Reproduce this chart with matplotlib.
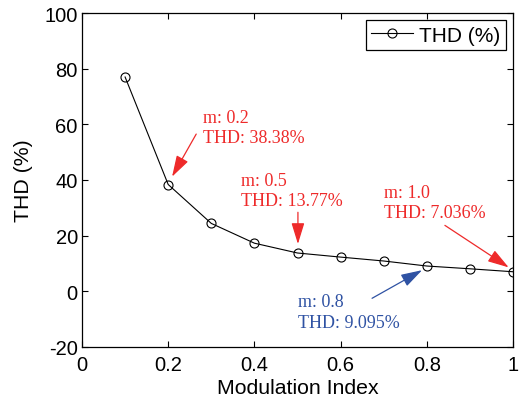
import matplotlib
matplotlib.use('Agg')
import matplotlib.pyplot as plt

m = [0.1, 0.2, 0.3, 0.4, 0.5, 0.6, 0.7, 0.8, 0.9, 1.0]
thd = [77.0, 38.38, 24.4, 17.3, 13.77, 12.3, 10.9, 9.095, 8.1, 7.036]

xticks = [0, 0.2, 0.4, 0.6, 0.8, 1]
xticklabels = ['0', '0.2', '0.4', '0.6', '0.8', '1']
yticks = [-20, 0, 20, 40, 60, 80, 100]

# (label, text pos, arrow tail, arrow tip, colour)
notes = [
    ('m: 0.2\nTHD: 38.38%', (0.281, 58.8), (0.265, 56.5), (0.209, 41.2), '#ee2a2a'),
    ('m: 0.5\nTHD: 13.77%', (0.369, 36.2), (0.501, 28.4), (0.501, 17.0), '#ee2a2a'),
    ('m: 1.0\nTHD: 7.036%', (0.700, 32.0), (0.842, 23.7), (0.990, 8.6), '#ee2a2a'),
    ('m: 0.8\nTHD: 9.095%', (0.500, -7.4), (0.673, -2.5), (0.789, 7.6), '#2f52a3'),
]

plt.rcParams['font.family'] = ['Liberation Sans', 'DejaVu Sans']
plt.rcParams['axes.unicode_minus'] = False

fig = plt.figure(figsize=(5.21, 4.02), dpi=100)
ax = fig.add_axes([82/521, 1 - 348/402, 431/521, 334/402])

ax.plot(m, thd, color='k', lw=0.8, marker='o', ms=6.5, mfc='none',
        mec='k', mew=0.8, label='THD (%)')

for label, tpos, tail, tip, col in notes:
    ax.text(tpos[0], tpos[1], label, color=col, va='center', ha='left',
            fontsize=13, family=['Liberation Serif', 'DejaVu Serif'],
            linespacing=1.25)
    ax.annotate('', xy=tip, xytext=tail,
                arrowprops=dict(arrowstyle='-|>,head_length=0.65,head_width=0.2',
                                color=col, lw=0.9,
                                mutation_scale=20, shrinkA=0, shrinkB=0))

ax.set_xlim(0, 1)
ax.set_ylim(-20, 100)
ax.set_xticks(xticks)
ax.set_xticklabels(xticklabels)
ax.set_yticks(yticks)
ax.tick_params(direction='in', top=True, right=True, labelsize=14.5,
               length=4, width=0.8)
ax.tick_params(axis='x', pad=6)
ax.tick_params(axis='y', pad=3)
for s in ax.spines.values():
    s.set_linewidth(0.9)

ax.set_xlabel('Modulation Index', fontsize=15.3, labelpad=3)
ax.set_ylabel('THD (%)', fontsize=15.3, labelpad=8)

leg = ax.legend(loc='upper right', fontsize=15, fancybox=False,
                edgecolor='k', framealpha=1, borderaxespad=0.35,
                handlelength=2.0, handletextpad=0.3, borderpad=0.25)
leg.get_frame().set_linewidth(0.9)

fig.savefig('out.png', dpi=100)
